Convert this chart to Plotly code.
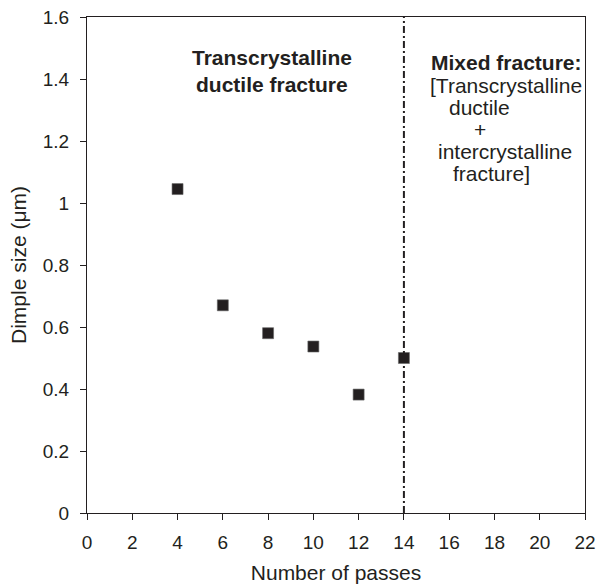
import plotly.graph_objects as go

passes = [4, 6, 8, 10, 12, 14]
dimple_size = [1.045, 0.67, 0.58, 0.537, 0.382, 0.5]
boundary_pass = 14
x_ticks = list(range(0, 23, 2))
y_ticks = [0, 0.2, 0.4, 0.6, 0.8, 1.0, 1.2, 1.4, 1.6]
y_tick_text = ["0", "0.2", "0.4", "0.6", "0.8", "1", "1.2", "1.4", "1.6"]

left_region_lines = ["Transcrystalline", "ductile fracture"]
right_region_lines = ["<b>Mixed fracture:</b>", "[Transcrystalline", "ductile", "+",
                      "intercrystalline", "fracture]"]

ink = "#231f20"
font = "Liberation Sans, Arial, sans-serif"

fig = go.Figure()
fig.add_trace(go.Scatter(
    x=passes, y=dimple_size, mode="markers",
    marker=dict(symbol="square", size=11, color=ink, line=dict(width=0.6, color="#666")),
    showlegend=False,
))

fig.add_shape(type="line", xref="x", yref="y",
              x0=boundary_pass, x1=boundary_pass, y0=0, y1=1.6,
              line=dict(color=ink, width=2, dash="7px,3px,2px,3px"))

# left region label (bold, two lines)
left_pos = [(8.17, 1.468), (8.17, 1.383)]
for txt, (ax, ay) in zip(left_region_lines, left_pos):
    fig.add_annotation(x=ax, y=ay, xref="x", yref="y", text=f"<b>{txt}</b>",
                       showarrow=False, font=dict(family=font, size=21, color=ink))

# right region label
right_pos = [(18.53, 1.452), (18.53, 1.380), (17.33, 1.309), (17.36, 1.238),
             (18.46, 1.167), (17.89, 1.096)]
for txt, (ax, ay) in zip(right_region_lines, right_pos):
    fig.add_annotation(x=ax, y=ay, xref="x", yref="y", text=txt,
                       showarrow=False, font=dict(family=font, size=21, color=ink))

axis_common = dict(
    showgrid=False, zeroline=False, showline=True, linecolor=ink, linewidth=1.3,
    mirror=True, ticks="outside", ticklen=6, tickwidth=1.3, tickcolor=ink,
    tickfont=dict(family=font, size=19, color=ink),
)

fig.update_xaxes(range=[0, 22], tickmode="array", tickvals=x_ticks,
                 ticklabelstandoff=6,
                 title=dict(text="Number of passes", standoff=13,
                            font=dict(family=font, size=21, color=ink)),
                 **axis_common)
fig.update_yaxes(range=[0, 1.6], tickmode="array", tickvals=y_ticks, ticktext=y_tick_text,
                 ticklabelstandoff=7,
                 title=dict(text="Dimple size (μm)", standoff=10,
                            font=dict(family=font, size=21, color=ink)),
                 **axis_common)

fig.update_layout(
    width=599, height=586,
    margin=dict(l=87, r=14, t=17, b=73, autoexpand=False),
    plot_bgcolor="white", paper_bgcolor="white",
    font=dict(family=font, color=ink),
)

fig.write_html("out.html", config={"displayModeBar": False},
               post_script="document.body.style.margin='0px';")
